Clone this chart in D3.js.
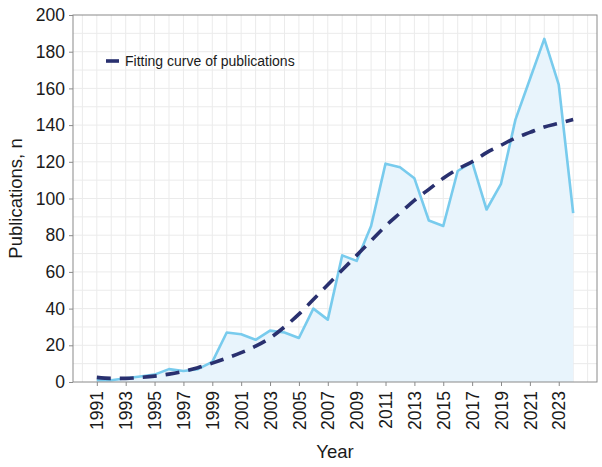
<!DOCTYPE html>
<html>
<head>
<meta charset="utf-8">
<script src="https://cdn.jsdelivr.net/npm/d3@7"></script>
<style>
  body { margin: 0; background: #fff; }
  text { font-family: "Liberation Sans", Arial, sans-serif; }
</style>
</head>
<body>
<svg id="chart"></svg>
<script>
// data
const years = d3.range(1991, 2025);
const publications = [1, 1, 2, 3, 4, 7, 6, 7, 11, 27, 26, 23, 28, 27, 24, 40, 34, 69, 66, 85,
  119, 117, 111, 88, 85, 115, 120, 94, 108, 143, 165, 187, 162, 92];
const fitted = [2.5, 2, 2, 2.5, 3.2, 4.3, 5.8, 7.8, 10.3, 13, 16, 19.5, 24, 30, 37, 45, 53, 61, 69, 77,
  85, 92, 99, 105, 111, 116, 120, 125, 129, 133, 136, 139, 141, 143];
const yTicks = [0, 20, 40, 60, 80, 100, 120, 140, 160, 180, 200];
const xTicks = d3.range(1991, 2025, 2);
const legendLabel = "Fitting curve of publications";

function createChart() {
  const W = 602, H = 467;
  const margin = { top: 15, right: 5, bottom: 85, left: 73 };
  const width = W - margin.left - margin.right;
  const height = H - margin.top - margin.bottom;

  const svg = d3.select("#chart")
    .attr("width", W)
    .attr("height", H);

  const g = svg.append("g")
    .attr("transform", `translate(${margin.left},${margin.top})`);

  // ggplot style 5% expansion on x
  const span = 2024 - 1991;
  const x = d3.scaleLinear()
    .domain([1991 - span * 0.05, 2024 + span * 0.05])
    .range([0, width]);

  const y = d3.scaleLinear()
    .domain([0, 200])
    .range([height, 0]);

  // grid
  g.append("g").selectAll("line")
    .data(d3.range(1990, 2026))
    .enter().append("line")
    .attr("x1", d => x(d)).attr("x2", d => x(d))
    .attr("y1", 0).attr("y2", height)
    .attr("stroke", "#ebebeb").attr("stroke-width", 1);

  g.append("g").selectAll("line")
    .data(d3.range(10, 200, 10))
    .enter().append("line")
    .attr("x1", 0).attr("x2", width)
    .attr("y1", d => y(d)).attr("y2", d => y(d))
    .attr("stroke", "#ebebeb").attr("stroke-width", 1);

  const rows = years.map((yr, i) => ({ year: yr, n: publications[i], fit: fitted[i] }));

  // area + line
  g.append("path")
    .datum(rows)
    .attr("fill", "#e8f4fc")
    .attr("d", d3.area().x(d => x(d.year)).y0(y(0)).y1(d => y(d.n)));

  g.append("path")
    .datum(rows)
    .attr("fill", "none")
    .attr("stroke", "#78cbed")
    .attr("stroke-width", 2.6)
    .attr("stroke-linejoin", "round")
    .attr("d", d3.line().x(d => x(d.year)).y(d => y(d.n)));

  g.append("path")
    .datum(rows)
    .attr("fill", "none")
    .attr("stroke", "#29306f")
    .attr("stroke-width", 3.6)
    .attr("stroke-dasharray", "14,9")
    .attr("d", d3.line().curve(d3.curveMonotoneX).x(d => x(d.year)).y(d => y(d.fit)));

  // border
  g.append("rect")
    .attr("width", width).attr("height", height)
    .attr("fill", "none").attr("stroke", "#8a8a8a").attr("stroke-width", 1);

  // axes
  const yAxis = g.append("g")
    .call(d3.axisLeft(y).tickValues(yTicks).tickSize(4).tickPadding(4));
  yAxis.select(".domain").remove();
  yAxis.selectAll(".tick line").attr("stroke", "#8a8a8a");
  yAxis.selectAll("text").attr("font-size", 17.5).attr("fill", "#1a1a1a")
    .style("font-family", "Liberation Sans, Arial, sans-serif");

  const xAxis = g.append("g")
    .attr("transform", `translate(0,${height})`)
    .call(d3.axisBottom(x).tickValues(xTicks).tickFormat(d3.format("d")).tickSize(4));
  xAxis.select(".domain").remove();
  xAxis.selectAll(".tick line").attr("stroke", "#8a8a8a");
  xAxis.selectAll("text")
    .attr("font-size", 17.5).attr("fill", "#1a1a1a")
    .style("font-family", "Liberation Sans, Arial, sans-serif")
    .attr("transform", "rotate(-90)")
    .attr("text-anchor", "end")
    .attr("x", -9).attr("y", 0).attr("dy", "0.35em");

  // titles
  svg.append("text")
    .attr("x", margin.left + width / 2)
    .attr("y", 458)
    .attr("text-anchor", "middle")
    .attr("font-size", 18.5).attr("fill", "#1a1a1a")
    .text("Year");

  svg.append("text")
    .attr("transform", `translate(22,${margin.top + height / 2}) rotate(-90)`)
    .attr("text-anchor", "middle")
    .attr("font-size", 18.5).attr("fill", "#1a1a1a")
    .text("Publications, n");

  // legend
  const lg = svg.append("g").attr("transform", "translate(106,61)");
  lg.append("line")
    .attr("x1", 0).attr("x2", 13).attr("y1", 0).attr("y2", 0)
    .attr("stroke", "#29306f").attr("stroke-width", 3.6);
  lg.append("text")
    .attr("x", 19).attr("y", 0).attr("dy", "0.35em")
    .attr("font-size", 14).attr("fill", "#1a1a1a")
    .text(legendLabel);
}

createChart();
</script>
</body>
</html>
